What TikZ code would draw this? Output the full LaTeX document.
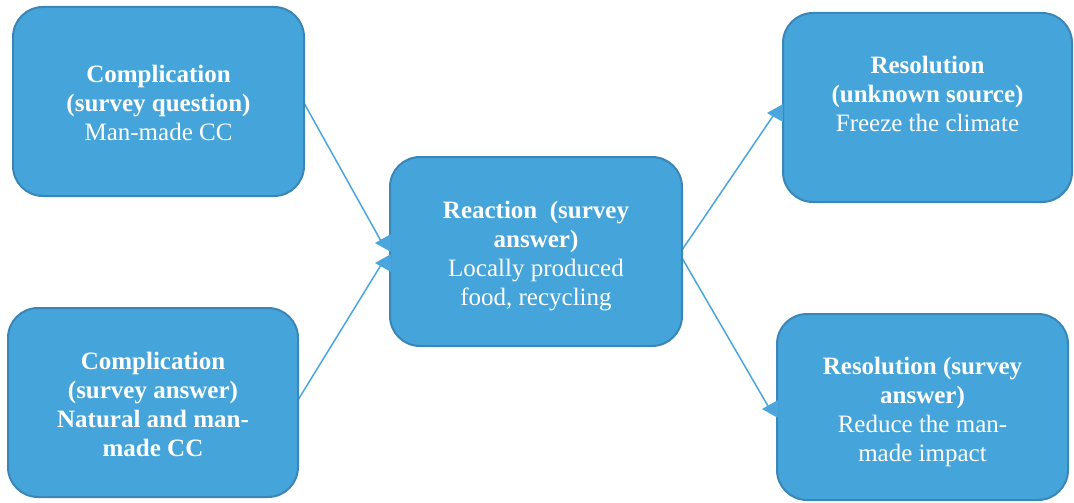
\documentclass[tikz,border=0pt]{standalone}
\usepackage{fontspec}
\setmainfont{Liberation Serif}
\usetikzlibrary{calc}
\definecolor{boxfill}{HTML}{45A4DA}
\definecolor{boxedge}{HTML}{3A86B6}
\definecolor{linec}{HTML}{4AA6DC}
\tikzset{
  card/.style={draw=boxedge, line width=2pt, fill=boxfill, rounded corners=30pt,
    minimum width=#1, minimum height=189pt, inner sep=0pt},
  card/.default=291pt,
  txt/.style={text=white, align=center, font=\fontsize{25}{29}\selectfont, inner sep=0pt},
  conn/.style={draw=linec, line width=1.5pt},
  tip/.style={fill=linec}
}
\begin{document}
\begin{tikzpicture}[x=1pt,y=-1pt]
\useasboundingbox (0,0) rectangle (1074,503);
% connectors (under boxes)
\coordinate (t1) at (390,243);
\coordinate (t2) at (390,263);
\coordinate (t3) at (782,113);
\coordinate (t4) at (777,409);
\coordinate (s1) at (304,103);
\coordinate (s2) at (298,400);
\coordinate (s3) at (682,250);
\coordinate (s4) at (682,258);
\draw[conn] (s1) -- ($(t1)+(-9,-2)$);
\draw[conn] (s2) -- ($(t2)+(-9,2)$);
\draw[conn] (s3) -- ($(t3)+(-9,3)$);
\draw[conn] (s4) -- ($(t4)+(-9,-3)$);
% boxes
\node[card] (b1) at (158.5,101.5) {};
\node[card=290pt] (b2) at (153,402.5) {};
\node[card=292pt] (b3) at (536,251.5) {};
\node[card=289pt] (b4) at (927.5,107.5) {};
\node[card, minimum height=186pt] (b5) at (922.5,407) {};
% texts
\node[txt] (b1t) at ([yshift=-1.5pt]b1.center) {\textbf{Complication}\\\textbf{(survey question)}\\Man-made CC};
\node[txt] (b2t) at ([yshift=-2pt]b2.center) {\textbf{Complication}\\\textbf{(survey answer)}\\\textbf{Natural and man-}\\\textbf{made CC}};
\node[txt] (b3t) at ([yshift=-5pt]b3.center) {\textbf{Reaction\ \ (survey}\\\textbf{answer)}\\Locally produced\\food, recycling};
\node[txt] (b4t) at ([yshift=13.5pt]b4.center) {\textbf{Resolution}\\\textbf{(unknown source)}\\Freeze the climate};
\node[txt] (b5t) at ([yshift=-5pt]b5.center) {\textbf{Resolution (survey}\\\textbf{answer)}\\Reduce the man-\\made impact};
% arrow heads
\foreach \t in {t1,t2,t3,t4}{
  \fill[tip] ($(\t)+(1,-9)$) -- ($(\t)+(-15,0)$) -- ($(\t)+(1,9)$) -- cycle;
}
\end{tikzpicture}
\end{document}
